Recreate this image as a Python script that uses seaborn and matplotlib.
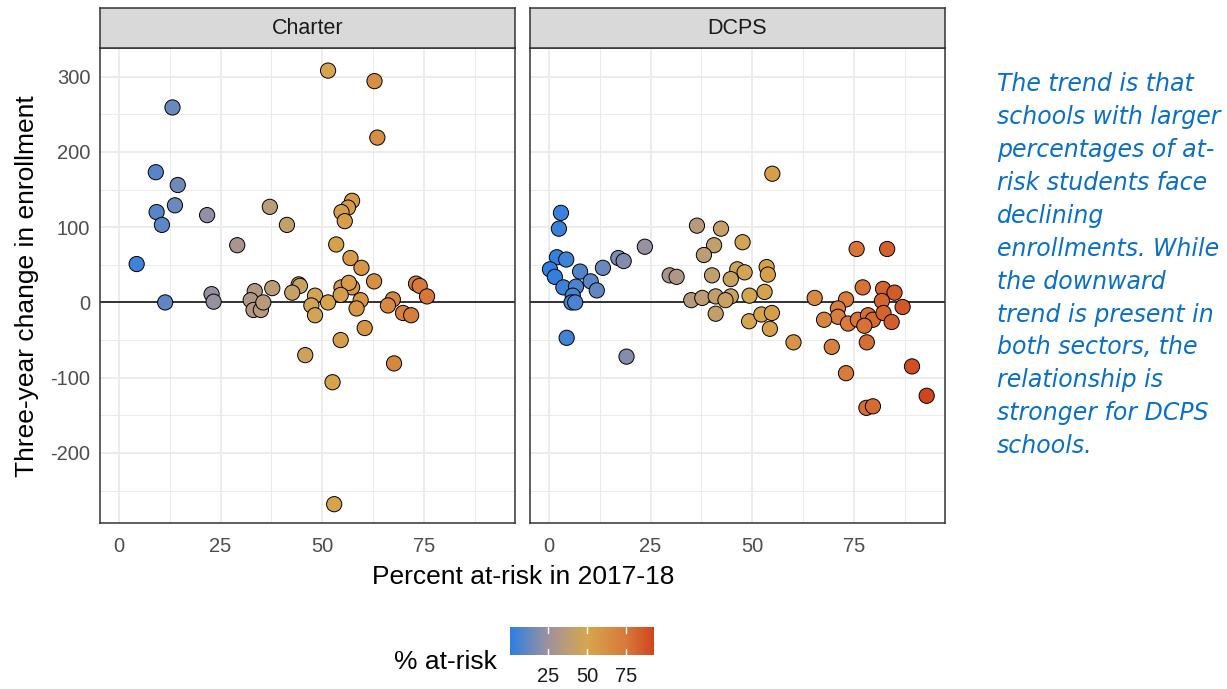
import numpy as np
import pandas as pd
import matplotlib
matplotlib.use("Agg")
import matplotlib.pyplot as plt
import seaborn as sns
from matplotlib.colors import LinearSegmentedColormap, Normalize
from matplotlib.cm import ScalarMappable

# ---------------- data ----------------
charter_pct = [51.4, 62.8, 13.2, 63.5, 9.1, 14.5, 13.8, 9.3, 10.6, 21.7, 37.1, 41.3,
               57.3, 56.3, 54.7, 55.5, 29.1, 4.4, 53.4, 56.9, 59.6, 62.7, 73.0, 73.9,
               75.7, 11.4, 22.8, 23.3, 33.4, 37.7, 44.2, 44.5, 42.6, 48.2, 54.7, 57.3,
               56.5, 59.4, 67.3, 32.4, 33.1, 34.9, 35.5, 47.3, 48.2, 51.4, 58.4, 66.1,
               69.8, 71.8, 60.4, 54.5, 45.8, 67.6, 52.5, 52.9, 54.5]
charter_chg = [308, 294, 259, 219, 173, 156, 129, 120, 103, 116, 127, 103,
               135, 126, 120, 108, 76, 51, 77, 59, 46, 28, 25, 22,
               8, 0, 11, 1, 15, 19, 24, 22, 13, 9, 20, 20,
               26, 3, 4, 3, -10, -10, 0, -4, -17, 0, -8, -4,
               -14, -17, -34, -50, -70, -81, -106, -268, 10]

dcps_pct = [54.9, 3.0, 2.5, 36.4, 42.3, 47.6, 40.6, 38.1, 23.6, 2.0, 4.3, 17.1,
            18.4, 13.3, 0.3, 7.7, 1.5, 10.3, 11.8, 3.6, 6.7, 5.9, 29.7, 31.4,
            40.1, 46.3, 48.1, 44.7, 53.5, 53.8, 53.0, 75.6, 83.1, 77.1, 82.1, 84.9,
            65.3, 73.0, 5.6, 6.5, 4.4, 19.1, 35.0, 37.7, 41.0, 44.7, 43.4, 49.3,
            41.0, 49.2, 52.2, 54.8, 54.3, 60.1, 71.0, 71.0, 67.6, 73.5, 75.9, 78.4,
            79.6, 77.5, 81.8, 86.9, 82.2, 84.2, 78.1, 69.5, 73.0, 89.2, 92.8, 78.0,
            79.6]
dcps_chg = [171, 119, 98, 102, 98, 80, 76, 63, 74, 60, 57, 59,
            55, 46, 44, 41, 34, 28, 16, 20, 21, 9, 36, 34,
            36, 44, 40, 31, 47, 37, 14, 71, 71, 20, 18, 13,
            6, 4, 0, 0, -47, -72, 3, 6, 8, 8, 3, 9,
            -15, -25, -16, -14, -35, -53, -8, -19, -23, -28, -23, -17,
            -23, -31, 2, -6, -14, -26, -53, -59, -94, -85, -124, -140,
            -138]

sectors = ["Charter", "DCPS"]
x_ticks = [0, 25, 50, 75]
y_ticks = [-200, -100, 0, 100, 200, 300]
cbar_ticks = [25, 50, 75]
annotation = ("The trend is that\nschools with larger\npercentages of at-\n"
              "risk students face\ndeclining\nenrollments. While\nthe downward\n"
              "trend is present in\nboth sectors, the\nrelationship is\n"
              "stronger for DCPS\nschools.")

df = pd.concat([
    pd.DataFrame({"sector": "Charter", "pct": charter_pct, "chg": charter_chg}),
    pd.DataFrame({"sector": "DCPS", "pct": dcps_pct, "chg": dcps_chg}),
], ignore_index=True)

# ---------------- style ----------------
sns.set_style("white")
plt.rcParams["font.family"] = ["Liberation Sans", "DejaVu Sans"]
plt.rcParams["axes.unicode_minus"] = False

vmin, vmax = df["pct"].min(), df["pct"].max()
stops = [(0, "#2d7fe1"), (25, "#a0919c"), (50, "#d6a74e"), (75, "#d8783a"), (vmax, "#cf461d")]
cmap = LinearSegmentedColormap.from_list(
    "atrisk", [((v - vmin) / (vmax - vmin) if v > vmin else 0.0, c) for v, c in stops])
norm = Normalize(vmin=vmin, vmax=vmax)

W, H = 1227, 689
fig = plt.figure(figsize=(W / 100, H / 100), dpi=100)

def fx(px):
    return px / W

def fy(py):
    return 1 - py / H

panel_x = [(100, 515), (530, 945)]
top, bottom = 48, 523
strip_top = 8

grid_c = "#ebebeb"
for i, (sector, (l, r)) in enumerate(zip(sectors, panel_x)):
    ax = fig.add_axes([fx(l), fy(bottom), fx(r - l), fy(top) - fy(bottom)])
    sub = df[df["sector"] == sector]
    ax.axhline(0, color="black", lw=1.1, zorder=1)
    sns.scatterplot(data=sub, x="pct", y="chg", hue="pct", palette=cmap, hue_norm=norm,
                    s=120, edgecolor="black", linewidth=0.7, legend=False, ax=ax, zorder=3)
    ax.set_xlim(-4.6, 97.3)
    ax.set_ylim(-293, 338)
    ax.set_xticks(x_ticks)
    ax.set_xticks([12.5, 37.5, 62.5, 87.5], minor=True)
    ax.set_yticks(y_ticks)
    ax.set_yticks([-250, -150, -50, 50, 150, 250], minor=True)
    ax.grid(True, which="major", color=grid_c, lw=1.3, zorder=0)
    ax.grid(True, which="minor", color=grid_c, lw=0.7, zorder=0)
    ax.set_axisbelow(True)
    for sp in ax.spines.values():
        sp.set_color("#333333")
        sp.set_linewidth(1.1)
    ax.tick_params(axis="x", which="major", length=5, width=1.1, color="#333333",
                   labelsize=14.5, labelcolor="#4d4d4d", pad=5)
    ax.tick_params(which="minor", length=0)
    if i == 0:
        ax.tick_params(axis="y", which="major", length=5, width=1.1, color="#333333",
                       labelsize=14.5, labelcolor="#4d4d4d", pad=2)
    else:
        ax.tick_params(axis="y", which="major", length=0, labelleft=False)
    ax.set_xlabel("")
    ax.set_ylabel("")

    sax = fig.add_axes([fx(l), fy(top), fx(r - l), fy(strip_top) - fy(top)])
    sax.set_facecolor("#d9d9d9")
    sax.set_xticks([])
    sax.set_yticks([])
    for sp in sax.spines.values():
        sp.set_color("#333333")
        sp.set_linewidth(1.1)
    sax.text(0.5, 0.5, sector, ha="center", va="center", fontsize=15.5, color="#1a1a1a",
             transform=sax.transAxes)

fig.text(fx(523), fy(577), "Percent at-risk in 2017-18", ha="center", va="center",
         fontsize=19, color="black")
fig.text(fx(27), fy(286), "Three-year change in enrollment", ha="center", va="center",
         rotation=90, fontsize=19, color="black")

# colorbar
cax = fig.add_axes([fx(510), fy(655), fx(654 - 510), fy(627) - fy(655)])
sm = ScalarMappable(norm=norm, cmap=cmap)
cb = fig.colorbar(sm, cax=cax, orientation="horizontal")
cb.outline.set_visible(False)
cb.set_ticks(cbar_ticks)
cax.tick_params(length=0, labelsize=14.5, labelcolor="#1a1a1a", pad=9)
for t in cbar_ticks:
    cax.axvline(t, ymin=0, ymax=0.2, color="white", lw=1)
    cax.axvline(t, ymin=0.8, ymax=1, color="white", lw=1)
fig.text(fx(497), fy(662), "% at-risk", ha="right", va="center", fontsize=19, color="black")

fig.text(fx(997), fy(72), annotation, ha="left", va="top", fontsize=17,
         family="DejaVu Sans", style="italic", color="#0a6fc7", linespacing=1.47)

fig.savefig("out.png", dpi=100)
